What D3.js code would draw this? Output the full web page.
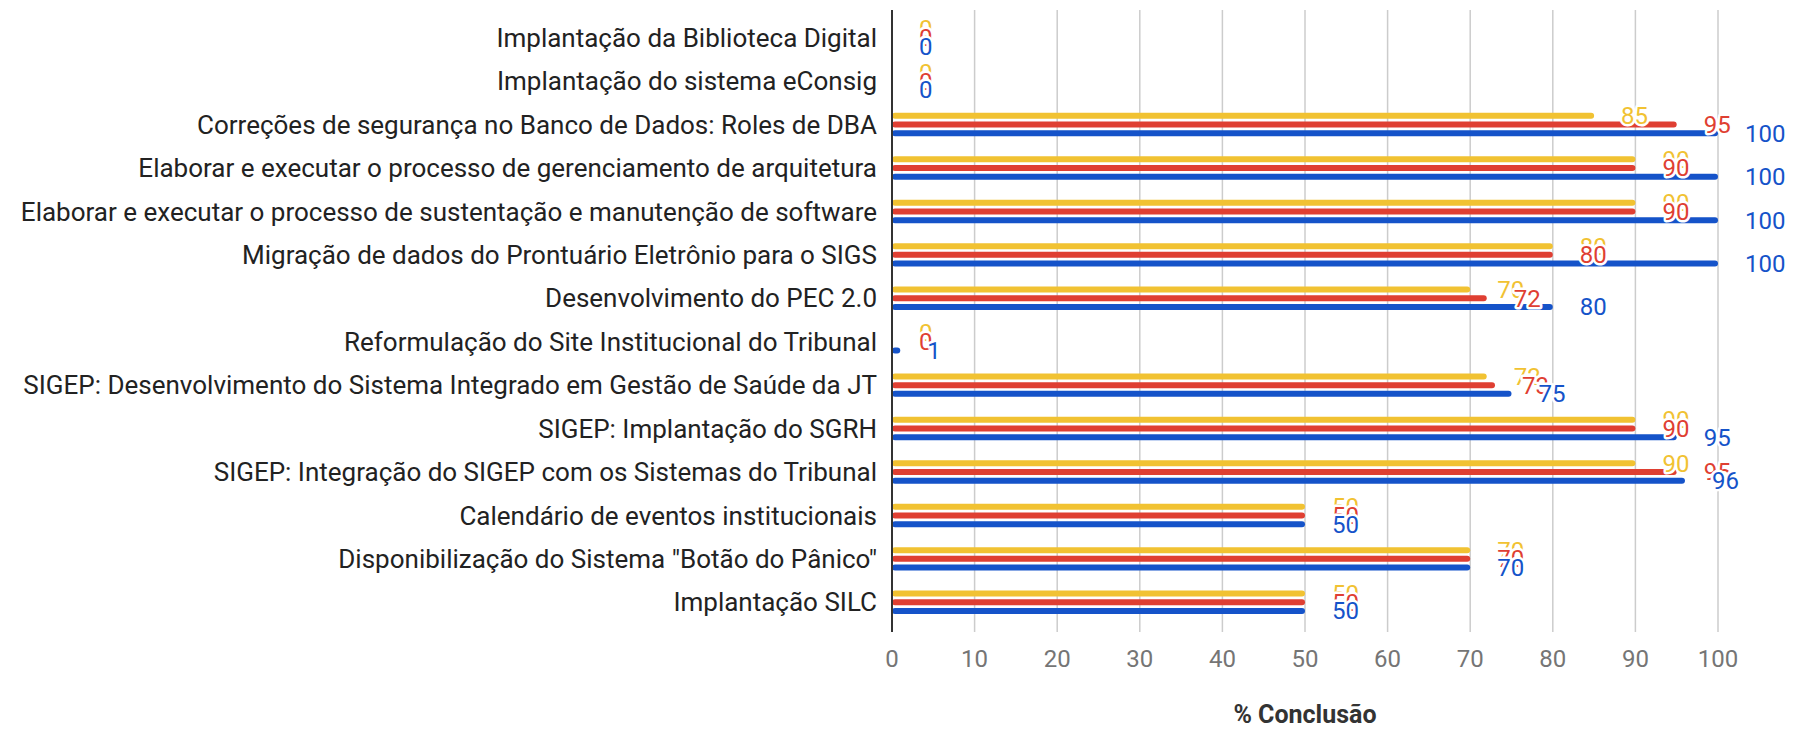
<!DOCTYPE html>
<html>
<meta charset="utf-8">
<style>
body { margin: 0; background: #fff; }
svg { display: block; font-family: Roboto, sans-serif; }
.cat { font-size: 26px; fill: #222; }
.tick { font-size: 24px; fill: #757575; }
.ann { font-size: 24px; stroke: #fff; stroke-width: 5px; paint-order: stroke; stroke-linejoin: round; }
</style>
<body>
<svg id="chart" width="1807" height="731"></svg>
<script src="https://d3js.org/d3.v7.min.js"></script>
<script>

// categories, top to bottom
var categories = [
  "Implantação da Biblioteca Digital",
  "Implantação do sistema eConsig",
  "Correções de segurança no Banco de Dados: Roles de DBA",
  "Elaborar e executar o processo de gerenciamento de arquitetura",
  "Elaborar e executar o processo de sustentação e manutenção de software",
  "Migração de dados do Prontuário Eletrônio para o SIGS",
  "Desenvolvimento do PEC 2.0",
  "Reformulação do Site Institucional do Tribunal",
  "SIGEP: Desenvolvimento do Sistema Integrado em Gestão de Saúde da JT",
  "SIGEP: Implantação do SGRH",
  "SIGEP: Integração do SIGEP com os Sistemas do Tribunal",
  "Calendário de eventos institucionais",
  "Disponibilização do Sistema \"Botão do Pânico\"",
  "Implantação SILC"
];

var seriesKeys = ["s1", "s2", "s3"];
var s1 = [0, 0, 85, 90, 90, 80, 70, 0, 72, 90, 90, 50, 70, 50];
var s2 = [0, 0, 95, 90, 90, 80, 72, 0, 73, 90, 95, 50, 70, 50];
var s3 = [0, 0, 100, 100, 100, 100, 80, 1, 75, 95, 96, 50, 70, 50];
var seriesColors = ["#f1c232", "#df3f32", "#1553c9"];

var xTicks = [0, 10, 20, 30, 40, 50, 60, 70, 80, 90, 100];
var xTitle = "% Conclusão";

var svg = d3.select("#chart");

var x = d3.scaleLinear().domain([0, 100]).range([892, 1718]);
var y = d3.scaleBand().domain(categories).range([16, 624]);
var ys = d3.scalePoint().domain(seriesKeys).range([-8.7, 8.7]);

var values = [s1, s2, s3];
var series = seriesKeys.map(function(k, i) {
  return {
    key: k,
    color: seriesColors[i],
    points: categories.map(function(c, j) { return { cat: c, value: values[i][j] }; })
  };
});

// gridlines
svg.append("g").selectAll("line")
  .data(xTicks.slice(1))
  .enter().append("line")
    .attr("x1", function(d) { return x(d); })
    .attr("x2", function(d) { return x(d); })
    .attr("y1", 10)
    .attr("y2", 632)
    .attr("stroke", "#cccccc")
    .attr("stroke-width", 1.5);

// tick labels
svg.append("g").selectAll("text")
  .data(xTicks)
  .enter().append("text")
    .attr("class", "tick")
    .attr("x", function(d) { return x(d); })
    .attr("y", 659)
    .attr("dy", "0.35em")
    .attr("text-anchor", "middle")
    .text(function(d) { return d; });

// bars
var barH = 6;
var groups = svg.append("g").selectAll("g")
  .data(series)
  .enter().append("g")
    .attr("fill", function(d) { return d.color; });

groups.selectAll("rect")
  .data(function(d) { return d.points.filter(function(p) { return p.value > 0; }).map(function(p) { return { key: d.key, cat: p.cat, value: p.value }; }); })
  .enter().append("rect")
    .attr("x", x(0))
    .attr("y", function(d) { return y(d.cat) + y.bandwidth() / 2 + ys(d.key) - barH / 2; })
    .attr("width", function(d) { return x(d.value) - x(0); })
    .attr("height", barH)
    .attr("rx", 3);

// axis line
svg.append("line")
  .attr("x1", x(0)).attr("x2", x(0))
  .attr("y1", 10).attr("y2", 632)
  .attr("stroke", "#333")
  .attr("stroke-width", 2);

// category labels
svg.append("g").selectAll("text")
  .data(categories)
  .enter().append("text")
    .attr("class", "cat")
    .attr("x", x(0) - 15)
    .attr("y", function(d) { return y(d) + y.bandwidth() / 2; })
    .attr("dy", "0.35em")
    .attr("text-anchor", "end")
    .text(function(d) { return d; });

// value annotations, drawn series by series so later ones cover earlier ones
series.forEach(function(s) {
  svg.append("g").selectAll("text")
    .data(s.points)
    .enter().append("text")
      .attr("class", "ann")
      .attr("fill", s.color)
      .attr("x", function(d) { return x(d.value) + 27; })
      .attr("y", function(d) { return y(d.cat) + y.bandwidth() / 2 + ys(s.key); })
      .attr("dy", "0.35em")
      .text(function(d) { return d.value; });
});

// axis title
svg.append("text")
  .attr("x", (x(0) + x(100)) / 2)
  .attr("y", 714)
  .attr("dy", "0.35em")
  .attr("text-anchor", "middle")
  .style("font-size", "25px")
  .style("font-weight", "bold")
  .attr("fill", "#333")
  .text(xTitle);

</script>
</body>
</html>
